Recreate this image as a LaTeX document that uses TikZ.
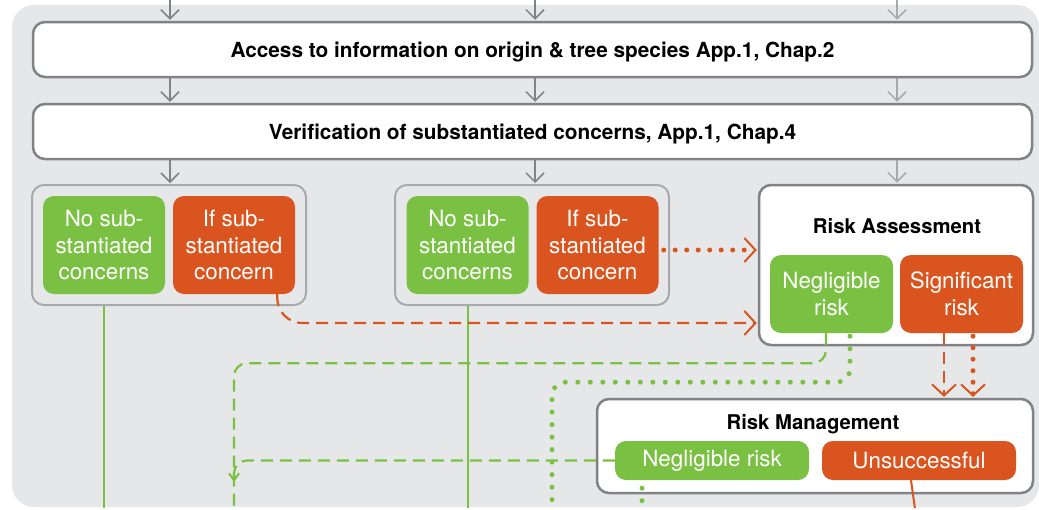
\documentclass[tikz,border=0pt]{standalone}
\usepackage{fontspec}
\setmainfont{TeX Gyre Heros}
\usepackage{tikz}
\usetikzlibrary{arrows.meta}

\definecolor{bggray}{HTML}{E6E7E8}
\definecolor{boxgray}{HTML}{808285}
\definecolor{lightgray}{HTML}{A7A9AC}
\definecolor{fscgreen}{HTML}{7AC143}
\definecolor{fscorange}{HTML}{D9541E}

\begin{document}
\begin{tikzpicture}[x=1pt, y=-1pt, shorten >=1pt,
	>={Straight Barb[length=9pt,width=18pt]},
	mainbox/.style={draw=boxgray, line width=2.5pt, fill=white, rounded corners=12pt, minimum width=999pt, minimum height=55pt, inner sep=0pt, text depth=0pt, font=\bfseries\fontsize{20.8}{24}\selectfont},
	groupbox/.style={draw=lightgray, line width=2pt, rounded corners=12pt, minimum width=274pt, minimum height=120pt, inner sep=0pt},
	riskbox/.style={draw=boxgray, line width=2.5pt, fill=white, rounded corners=12pt, inner sep=0pt},
	title/.style={text depth=0pt, font=\bfseries\fontsize{20.3}{24}\selectfont},
	colbox/.style={rounded corners=11pt, text=white, align=center, inner sep=0pt, minimum width=122pt, minimum height=98pt, font=\fontsize{22.4}{26.5}\selectfont},
	greenbox/.style={colbox, fill=fscgreen},
	orangebox/.style={colbox, fill=fscorange},
	grayarrow/.style={->, draw=boxgray, line width=1.5pt},
	lightarrow/.style={->, draw=lightgray, line width=1.5pt},
	greenline/.style={draw=fscgreen, line width=2pt},
	greendash/.style={draw=fscgreen, line width=2.2pt, dash pattern=on 12pt off 7pt, rounded corners=13pt},
	greendot/.style={draw=fscgreen, line width=5pt, line cap=round, dash pattern=on 0pt off 12.5pt, rounded corners=13pt},
	orangeline/.style={draw=fscorange, line width=2pt},
	orangedash/.style={draw=fscorange, line width=2.2pt, dash pattern=on 12pt off 7pt},
	orangedot/.style={draw=fscorange, line width=5pt, line cap=round, dash pattern=on 0pt off 11.5pt},
	colarrow/.style={-{Straight Barb[length=11pt,width=24pt,line width=2pt]}}]
	\useasboundingbox (0,0) rectangle (1039,509);
	\fill[bggray, rounded corners=22pt] (12,5) rectangle (1039,507);

	% ends of the lines that leave the picture
	\coordinate (T1) at (170,0);
	\coordinate (T2) at (535,0);
	\coordinate (T3) at (897,0);
	\coordinate (BOT1) at (104,509);
	\coordinate (BOT2) at (467.5,509);
	\coordinate (DASHBOT) at (234,509);
	\coordinate (DASHJOIN) at (234,483);
	\coordinate (DOTBOT) at (552,509);
	\coordinate (DOTBOT2) at (642,509);
	\coordinate (OBOT) at (915,509);

	\node[mainbox] (ACCESS) at (532.5,49.5) {Access to information on origin \& tree species App.1, Chap.2};
	\node[mainbox] (VERIF) at (532.5,131.5) {Verification of substantiated concerns, App.1, Chap.4};

	\node[groupbox]  (GRP1)   at (169,245)   {};
	\node[greenbox]  (NOSUB1) at (104,245)   {No sub-\\stantiated\\concerns};
	\node[orangebox] (IFSUB1) at (234,245)   {If sub-\\stantiated\\concern};
	\node[groupbox]  (GRP2)   at (532,245)   {};
	\node[greenbox]  (NOSUB2) at (467.5,245) {No sub-\\stantiated\\concerns};
	\node[orangebox] (IFSUB2) at (597.5,245) {If sub-\\stantiated\\concern};

	\node[riskbox, minimum width=274pt, minimum height=160pt] (RA) at (896,265) {};
	\node[title] (RATITLE) at (897,226) {Risk Assessment};
	\node[greenbox, minimum width=123pt, minimum height=78pt]  (NEGRA) at (831.5,294) {Negligible\\risk};
	\node[orangebox, minimum width=123pt, minimum height=78pt] (SIGRA) at (961.5,294) {Significant\\risk};

	\node[riskbox, minimum width=436pt, minimum height=94pt] (RM) at (815,446) {};
	\node[title] (RMTITLE) at (813,422) {Risk Management};
	\node[greenbox, minimum width=194pt, minimum height=39pt]  (NEGRM)  at (712,460.5) {Negligible risk};
	\node[orangebox, minimum width=194pt, minimum height=39pt] (UNSUCC) at (919,460.5) {Unsuccessful};

	% gray flow
	\draw[grayarrow]  (T1) -- (T1 |- ACCESS.north);
	\draw[grayarrow]  (T2) -- (T2 |- ACCESS.north);
	\draw[lightarrow] (T3) -- (T3 |- ACCESS.north);
	\draw[grayarrow]  (ACCESS.south -| T1) -- (VERIF.north -| T1);
	\draw[grayarrow]  (ACCESS.south -| T2) -- (VERIF.north -| T2);
	\draw[lightarrow] (ACCESS.south -| T3) -- (VERIF.north -| T3);
	\draw[grayarrow]  (VERIF.south -| T1) -- (GRP1.north -| T1);
	\draw[grayarrow]  (VERIF.south -| T2) -- (GRP2.north -| T2);
	\draw[lightarrow] (VERIF.south -| T3) -- (RA.north -| T3);

	% green paths
	\draw[greenline] (GRP1.south -| BOT1) -- (BOT1);
	\draw[greenline] (GRP2.south -| BOT2) -- (BOT2);
	\draw[greendash] ([xshift=-5.5pt]NEGRA.south) |- ([yshift=-30pt]NEGRA.south -| DASHBOT) -- (DASHBOT);
	\draw[greendash, -{Straight Barb[length=7pt,width=10pt,line width=2pt]}] (NEGRM.west) -| (DASHJOIN);
	\draw[greendot] ([xshift=18.5pt,yshift=-3pt]NEGRA.south) |- ([yshift=-49pt]NEGRA.south -| DOTBOT) -- (DOTBOT);
	\draw[greendot] ([yshift=-8pt]NEGRM.south -| DOTBOT2) -- (DOTBOT2);

	% orange paths
	\draw[orangedot, colarrow] ([shift={(5pt,-5pt)}]IFSUB2.east) -- ([yshift=-5pt]IFSUB2.east -| RA.west);
	\draw[orangedash, colarrow, rounded corners=25pt] ([xshift=-18pt]IFSUB1.south east) |- ([yshift=-58pt]RA.west);
	\draw[orangedash, colarrow] ([xshift=-17.5pt]SIGRA.south) -- ([xshift=-17.5pt]SIGRA.south |- RM.north);
	\draw[orangedot, colarrow] ([xshift=11.5pt,yshift=-3pt]SIGRA.south) -- ([xshift=11.5pt]SIGRA.south |- RM.north);
	\draw[orangeline] ([xshift=-4pt]UNSUCC.south -| OBOT) -- (OBOT);
\end{tikzpicture}
\end{document}
